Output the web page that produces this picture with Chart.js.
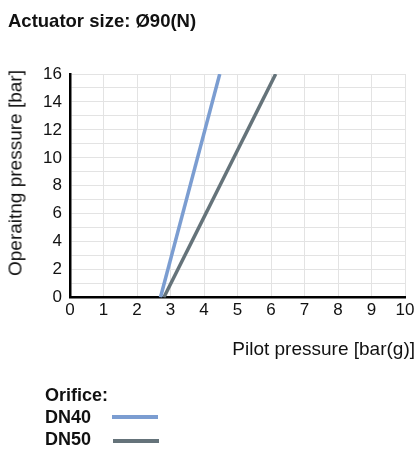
<!DOCTYPE html>
<html>
<head>
<meta charset="utf-8">
<script src="https://cdn.jsdelivr.net/npm/chart.js@4.4.1/dist/chart.umd.min.js"></script>
<style>
  html, body { margin: 0; padding: 0; background: #fff; }
  body { width: 420px; height: 449px; position: relative; overflow: hidden;
         font-family: "Liberation Sans", Arial, Helvetica, sans-serif; color: #111; }
  #c { position: absolute; left: 0; top: 0; }
  .title { position: absolute; left: 8px; top: 11.5px; font-size: 18.5px; line-height: 18.5px;
           font-weight: bold; white-space: nowrap; }
  .ytitle { position: absolute; left: 15px; top: 173px; font-size: 19px; line-height: 19px;
            white-space: nowrap; transform: translate(-50%, -50%) rotate(-90deg); }
  .xtitle { position: absolute; right: 5px; top: 339px; font-size: 19px; line-height: 19px;
            white-space: nowrap; }
  .legend { position: absolute; left: 45px; top: 384.3px; font-size: 18px; line-height: 22px;
            font-weight: bold; }
  .legend .row { position: relative; height: 22px; white-space: nowrap; }
  .legend .sw { position: absolute; height: 4px; width: 46px; }
</style>
</head>
<body>
<canvas id="c" width="420" height="449"></canvas>
<div class="title">Actuator size: Ø90(N)</div>
<div class="ytitle">Operaitng pressure [bar]</div>
<div class="xtitle">Pilot pressure [bar(g)]</div>
<div class="legend" id="legend"></div>
<script>
// ---- data ----
const seriesNames = ["DN40", "DN50"];
const seriesColors = ["#7b9dd1", "#65737a"];
const dn40X = [2.70, 4.47];
const dn40Y = [0, 16];
const dn50X = [2.80, 6.14];
const dn50Y = [0, 16];
const xTicks = [0, 1, 2, 3, 4, 5, 6, 7, 8, 9, 10];
const yTicks = [0, 2, 4, 6, 8, 10, 12, 14, 16];
const legendTitle = "Orifice:";

function pts(xs, ys) { return xs.map((x, i) => ({ x: x, y: ys[i] })); }

// legend (HTML)
(function () {
  const lg = document.getElementById('legend');
  const t = document.createElement('div');
  t.className = 'row';
  t.textContent = legendTitle;
  lg.appendChild(t);
  const swLeft = [67, 68];
  const swTop = [9, 10.4];
  seriesNames.forEach((n, i) => {
    const r = document.createElement('div');
    r.className = 'row';
    r.textContent = n;
    const s = document.createElement('span');
    s.className = 'sw';
    s.style.left = swLeft[i] + 'px';
    s.style.top = swTop[i] + 'px';
    s.style.background = seriesColors[i];
    r.appendChild(s);
    lg.appendChild(r);
  });
})();

const tickFont = { family: '"Liberation Sans", Arial, Helvetica, sans-serif', size: 17 };

new Chart(document.getElementById('c'), {
  type: 'scatter',
  data: {
    datasets: [
      { label: seriesNames[0], data: pts(dn40X, dn40Y), showLine: true,
        borderColor: seriesColors[0], backgroundColor: seriesColors[0],
        borderWidth: 3.5, pointRadius: 0, tension: 0 },
      { label: seriesNames[1], data: pts(dn50X, dn50Y), showLine: true,
        borderColor: seriesColors[1], backgroundColor: seriesColors[1],
        borderWidth: 3.5, pointRadius: 0, tension: 0 }
    ]
  },
  options: {
    responsive: false,
    animation: false,
    devicePixelRatio: 1,
    layout: { padding: { left: 0, right: 15, top: 74, bottom: 90 } },
    plugins: { legend: { display: false }, tooltip: { enabled: false }, title: { display: false } },
    scales: {
      x: {
        type: 'linear', min: xTicks[0], max: xTicks[xTicks.length - 1],
        afterFit: s => { s.height = 61.5; },
        afterBuildTicks: s => { s.ticks = xTicks.map(v => ({ value: v })); },
        grid: { color: '#e3e3e3', lineWidth: 1, drawTicks: false },
        border: { color: '#000', width: 2.5 },
        ticks: { color: '#111', font: tickFont, padding: 3, maxRotation: 0, autoSkip: false }
      },
      y: {
        type: 'linear', min: 0, max: 16,
        afterFit: s => { s.width = 70; },
        afterBuildTicks: s => {
          const a = [];
          for (let v = 0; v <= 16; v++) a.push({ value: v });
          s.ticks = a;
        },
        grid: { color: '#e3e3e3', lineWidth: 1, drawTicks: false },
        border: { color: '#000', width: 2.5 },
        ticks: { color: '#111', font: tickFont, padding: 8, autoSkip: false,
                 callback: v => (yTicks.includes(v) ? String(v) : '') }
      }
    }
  }
});
</script>
</body>
</html>
